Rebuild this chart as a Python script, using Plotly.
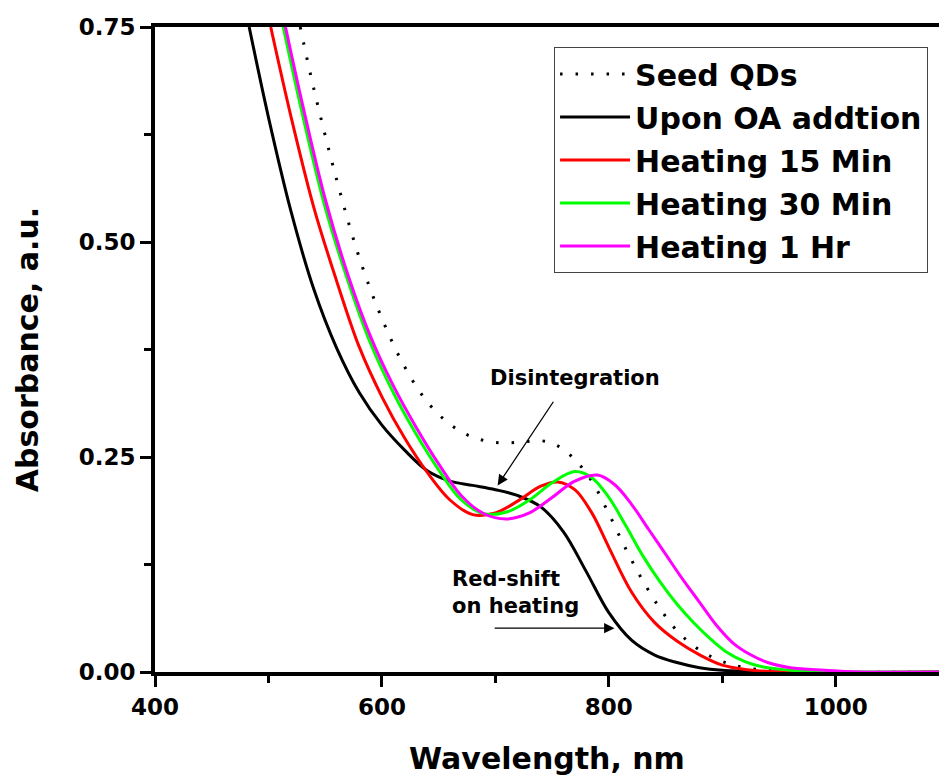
import plotly.graph_objects as go

# ---- data ----
seed_wl = [528, 540, 560, 580, 600, 620, 640, 660, 680, 700, 720, 740, 755, 770, 785, 800, 815, 830, 845, 860, 875, 890, 905, 920, 940, 970, 1100]
seed_abs = [0.75, 0.678, 0.573, 0.482, 0.411, 0.355, 0.314, 0.288, 0.273, 0.267, 0.267, 0.269, 0.263, 0.247, 0.222, 0.184, 0.143, 0.106, 0.074, 0.048, 0.030, 0.018, 0.010, 0.005, 0.002, 0.0, 0.0]

oa_wl = [483, 500, 520, 540, 560, 580, 600, 620, 640, 660, 680, 700, 720, 740, 760, 780, 800, 820, 840, 860, 880, 900, 950, 1100]
oa_abs = [0.75, 0.645, 0.535, 0.445, 0.377, 0.325, 0.287, 0.258, 0.234, 0.222, 0.217, 0.212, 0.205, 0.192, 0.163, 0.117, 0.069, 0.037, 0.020, 0.011, 0.005, 0.002, 0.0, 0.0]

h15_wl = [502, 520, 540, 560, 580, 600, 620, 640, 660, 680, 700, 720, 740, 755, 770, 785, 800, 820, 840, 860, 880, 900, 920, 950, 1100]
h15_abs = [0.75, 0.645, 0.54, 0.455, 0.378, 0.32, 0.272, 0.232, 0.2, 0.183, 0.185, 0.199, 0.216, 0.221, 0.212, 0.185, 0.145, 0.093, 0.058, 0.036, 0.02, 0.008, 0.003, 0.0, 0.0]

h30_wl = [513, 530, 550, 570, 590, 610, 630, 650, 670, 690, 710, 730, 750, 770, 785, 800, 815, 830, 845, 860, 875, 890, 905, 920, 935, 960, 1000, 1100]
h30_abs = [0.75, 0.648, 0.54, 0.455, 0.382, 0.325, 0.277, 0.235, 0.2, 0.184, 0.186, 0.2, 0.22, 0.233, 0.226, 0.203, 0.17, 0.135, 0.105, 0.079, 0.057, 0.038, 0.022, 0.012, 0.006, 0.002, 0.0, 0.0]

h1_wl = [515, 530, 550, 570, 590, 610, 630, 650, 670, 690, 710, 730, 750, 770, 790, 805, 820, 835, 850, 865, 880, 895, 910, 925, 940, 960, 990, 1020, 1100]
h1_abs = [0.75, 0.66, 0.55, 0.462, 0.39, 0.333, 0.285, 0.242, 0.205, 0.184, 0.178, 0.185, 0.203, 0.222, 0.229, 0.218, 0.195, 0.166, 0.137, 0.108, 0.081, 0.054, 0.033, 0.02, 0.011, 0.005, 0.002, 0.0, 0.0]

series_names = ["Seed QDs", "Upon OA addtion", "Heating 15 Min", "Heating 30 Min", "Heating 1 Hr"]
series_x = [seed_wl, oa_wl, h15_wl, h30_wl, h1_wl]
series_y = [seed_abs, oa_abs, h15_abs, h30_abs, h1_abs]
series_colors = ["#000000", "#000000", "#FF0000", "#00FF00", "#FF00FF"]
series_dash = ["2.5px,13px", "solid", "solid", "solid", "solid"]

x_ticks = [400, 600, 800, 1000]
y_ticks = [0.0, 0.25, 0.50, 0.75]
y_ticklabels = ["0.00", "0.25", "0.50", "0.75"]

FONT = "DejaVu Sans"

fig = go.Figure()
for i, (name, xs, ys, col, dash) in enumerate(zip(series_names, series_x, series_y, series_colors, series_dash)):
    fig.add_trace(go.Scatter(
        x=xs, y=ys, name=name, mode="lines", legendgroup=f"g{i}",
        line=dict(color=col, width=3, dash=dash, shape="spline", smoothing=1.0),
    ))

axis_common = dict(
    showgrid=False, zeroline=False, showline=True, linecolor="black", linewidth=4,
    ticks="outside", ticklen=11, tickwidth=3, tickcolor="black",
    tickfont=dict(family=FONT, size=23, color="black", weight="bold"),
)

fig.update_xaxes(
    range=[400, 1091], tickvals=x_ticks, mirror=True,
    minor=dict(ticks="outside", dtick=100, tick0=400, ticklen=7, tickwidth=3, tickcolor="black"),
    title=dict(text="Wavelength, nm", font=dict(family=FONT, size=30, color="black", weight="bold"), standoff=30),
    **axis_common,
)
fig.update_yaxes(
    range=[0, 0.75], tickvals=y_ticks, ticktext=y_ticklabels, mirror=False,
    minor=dict(ticks="outside", dtick=0.125, tick0=0, ticklen=7, tickwidth=3, tickcolor="black"),
    title=dict(text="Absorbance, a.u.", font=dict(family=FONT, size=30, color="black", weight="bold"), standoff=32),
    **axis_common,
)

fig.add_annotation(x=770, y=0.342, text="Disintegration", showarrow=False,
                   font=dict(family=FONT, size=21, color="black", weight="bold"))
fig.add_annotation(x=702, y=0.217, ax=752, ay=0.316, axref="x", ayref="y", text="",
                   showarrow=True, arrowhead=2, arrowsize=1.6, arrowwidth=1.3, arrowcolor="black")
fig.add_annotation(x=660, y=0.093, text="Red-shift<br>on heating", showarrow=False,
                   xanchor="left", align="left",
                   font=dict(family=FONT, size=21, color="black", weight="bold"))
fig.add_annotation(x=805, y=0.051, ax=698, ay=0.051, axref="x", ayref="y", text="",
                   showarrow=True, arrowhead=2, arrowsize=1.6, arrowwidth=1.3, arrowcolor="black")

fig.update_layout(
    width=939, height=779,
    margin=dict(l=155, r=0, t=27, b=107),
    paper_bgcolor="white", plot_bgcolor="white",
    showlegend=True,
    legend=dict(
        x=0.509, y=0.969, xanchor="left", yanchor="top",
        bgcolor="white", bordercolor="#444444", borderwidth=1,
        font=dict(family=FONT, size=30, color="black", weight="bold"),
        itemwidth=70, tracegroupgap=1, traceorder="grouped",
    ),
)

fig.write_html("out.html")
